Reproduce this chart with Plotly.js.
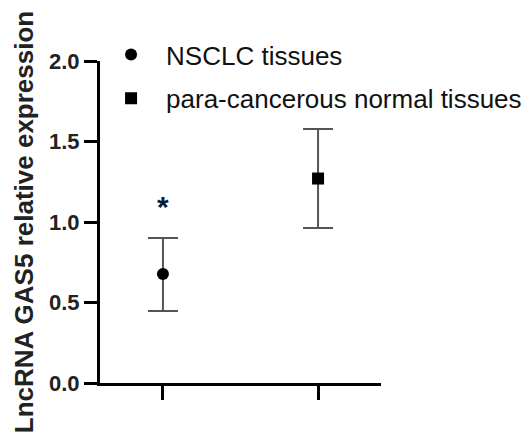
<!DOCTYPE html>
<html><head><meta charset="utf-8">
<script src="https://cdn.plot.ly/plotly-3.0.1.min.js"></script>
<style>html,body{margin:0;padding:0;background:#fff}</style>
</head><body>
<div id="chart" style="width:531px;height:436px"></div>
<script>
const groups = ["NSCLC tissues", "para-cancerous normal tissues"];
const xPos = [1, 2];
const means = [0.677, 1.27];
const errUpper = [0.223, 0.308];
const errLower = [0.230, 0.307];
const symbols = ["circle", "square"];
const sigText = ["*"];
const sigX = [1];
const sigY = [1.075];
const yTicks = [0, 0.5, 1.0, 1.5, 2.0];
const yTickLabels = ["0.0", "0.5", "1.0", "1.5", "2.0"];

const traces = groups.map((g, i) => ({
  type: "scatter", mode: "markers", name: g,
  legendgroup: "g" + i,
  x: [xPos[i]], y: [means[i]],
  marker: {symbol: symbols[i], size: 12, color: "#000"},
  error_y: {type: "data", symmetric: false, array: [errUpper[i]], arrayminus: [errLower[i]],
            color: "#555", thickness: 2, width: 15},
  cliponaxis: false
}));
traces.push({
  type: "scatter", mode: "text", x: sigX, y: sigY, text: sigText,
  textfont: {family: "Liberation Sans, Arial", size: 30, weight: "bold", color: "#0b1a3a"},
  showlegend: false, hoverinfo: "skip", cliponaxis: false
});

const layout = {
  width: 531, height: 436,
  margin: {l: 100, r: 150, t: 61, b: 53},
  paper_bgcolor: "#fff", plot_bgcolor: "#fff",
  font: {family: "Liberation Sans, Arial, sans-serif", color: "#111"},
  showlegend: true,
  legend: {x: -0.014, y: 1.093, xanchor: "left", yanchor: "top",
           font: {size: 26, color: "#111"}, itemwidth: 60,
           traceorder: "grouped", tracegroupgap: 7, bgcolor: "rgba(0,0,0,0)"},
  xaxis: {range: [0.594, 2.406], tickvals: xPos, ticktext: ["", ""],
          showgrid: false, zeroline: false, showline: true, linecolor: "#000", linewidth: 3,
          ticks: "outside", ticklen: 14, tickwidth: 3, tickcolor: "#000", fixedrange: true},
  yaxis: {range: [0, 2], tickvals: yTicks, ticktext: yTickLabels,
          showgrid: false, zeroline: false, showline: true, linecolor: "#000", linewidth: 3,
          ticks: "outside", ticklen: 13, tickwidth: 3, tickcolor: "#000",
          tickfont: {size: 22, family: "Liberation Sans, Arial", weight: "bold", color: "#222"},
          title: {text: "<b>LncRNA GAS5 relative expression</b>", font: {size: 26, color: "#222"}, standoff: 8},
          fixedrange: true}
};
Plotly.newPlot("chart", traces, layout, {displayModeBar: false, staticPlot: true});
</script>
</body></html>
